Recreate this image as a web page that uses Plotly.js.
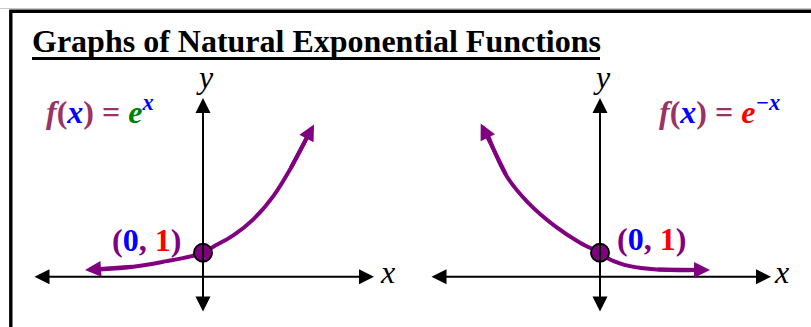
<!DOCTYPE html>
<html><head><meta charset="utf-8">
<script src="https://cdn.plot.ly/plotly-3.0.1.min.js"></script>
<style>html,body{margin:0;padding:0;background:#fff;}#chart{width:811px;height:327px;}</style>
</head><body><div id="chart"></div>
<script>
// ---- values (data units: x, and y with (0,1) the marked point) ----
const growthX = [-1.967, -1.717, -1.162, -0.605, -0.188, 0, 0.172, 0.505, 0.838, 1.172, 1.45, 1.728, 1.85];
const growthY = [0.283, 0.304, 0.417, 0.65, 0.858, 1, 1.25, 1.72, 2.39, 3.36, 4.47, 5.79, 6.35];
const decayX  = [-1.988, -1.862, -1.555, -1.195, -0.75, -0.333, 0, 0.167, 0.5, 0.945, 1.583, 1.833];
const decayY  = [6.39, 5.86, 4.19, 3.08, 2.11, 1.42, 1, 0.721, 0.442, 0.304, 0.275, 0.275];
const pointX = [0];
const pointY = [1];
const pointLabel = ['0', '1'];
const titleText = 'Graphs of Natural Exponential Functions';

// ---- layout constants ----
const W = 811, H = 327;
const PX = p => p / W, PY = p => 1 - p / H;
const XR = [-2.8333, 2.85], YR = [-1.5125, 7.45];
const FONT = 'Liberation Serif, Times New Roman, serif';
const PURPLE = '#800080', PLUM = '#993366';

function curveTraces(xs, ys, xa, ya) {
  const n = xs.length;
  return [
    {x: xs.slice(1, n - 1), y: ys.slice(1, n - 1), xaxis: xa, yaxis: ya, mode: 'lines',
     line: {color: PURPLE, width: 4, shape: 'spline', smoothing: 1}, cliponaxis: false, hoverinfo: 'skip'},
    {x: pointX, y: pointY, xaxis: xa, yaxis: ya, mode: 'markers', cliponaxis: false,
     marker: {symbol: 'circle', size: 18, color: PURPLE, line: {color: '#000', width: 1.8}}, hoverinfo: 'skip'}
  ];
}
function curveHeads(xs, ys, xr, yr) {
  const n = xs.length;
  const c = {showarrow: true, text: '', arrowhead: 2, arrowwidth: 4, arrowsize: 0.8, arrowcolor: PURPLE,
    xref: xr, yref: yr, axref: xr, ayref: yr};
  return [
    Object.assign({}, c, {x: xs[0], y: ys[0], ax: xs[2], ay: ys[2]}),
    Object.assign({}, c, {x: xs[n - 1], y: ys[n - 1], ax: xs[n - 3], ay: ys[n - 3]})
  ];
}

const data = [].concat(curveTraces(growthX, growthY, 'x', 'y'), curveTraces(decayX, decayY, 'x2', 'y2'));

function axisArrows(xr, yr) {
  const common = {showarrow: true, text: '', arrowhead: 2, startarrowhead: 2, arrowside: 'end+start',
    arrowwidth: 2, arrowsize: 1.5, startarrowsize: 1.5, arrowcolor: '#000', xref: xr, yref: yr, axref: xr, ayref: yr};
  return [
    Object.assign({}, common, {x: XR[1], y: 0, ax: XR[0], ay: 0}),
    Object.assign({}, common, {x: 0, y: YR[1], ax: 0, ay: YR[0]})
  ];
}
const sp = (c, t) => '<span style="color:' + c + '">' + t + '</span>';
const ptText = sp(PURPLE, '(') + sp('#0000FF', pointLabel[0]) + sp(PURPLE, ', ') + sp('#FF0000', pointLabel[1]) + sp(PURPLE, ')');
const f1 = '<i>' + sp(PLUM, 'f') + '</i>' + sp(PLUM, '(') + '<i>' + sp('#0000FF', 'x') + '</i>' + sp(PLUM, ') = ') +
  '<i>' + sp('#008000', 'e') + '<sup>' + sp('#0000FF', 'x') + '</sup></i>';
const f2 = '<i>' + sp(PLUM, 'f') + '</i>' + sp(PLUM, '(') + '<i>' + sp('#0000FF', 'x') + '</i>' + sp(PLUM, ') = ') +
  '<i>' + sp('#FF0000', 'e') + '<sup>' + sp('#0000FF', '\u2212x') + '</sup></i>';

const bigFont = {family: FONT, size: 32, color: '#000'};
const annotations = [].concat(
  axisArrows('x', 'y'), axisArrows('x2', 'y2'),
  curveHeads(growthX, growthY, 'x', 'y'), curveHeads(decayX, decayY, 'x2', 'y2'),
  [
    {xref: 'x', yref: 'y', x: pointX[0], y: pointY[0], text: '<b>' + ptText + '</b>', showarrow: false,
     xanchor: 'right', yanchor: 'middle', xshift: -20, yshift: 13, font: bigFont},
    {xref: 'x2', yref: 'y2', x: pointX[0], y: pointY[0], text: '<b>' + ptText + '</b>', showarrow: false,
     xanchor: 'left', yanchor: 'middle', xshift: 15, yshift: 14, font: bigFont},
    {xref: 'paper', yref: 'paper', x: PX(44), y: PY(110), text: '<b>' + f1 + '</b>', showarrow: false,
     xanchor: 'left', yanchor: 'middle', font: bigFont},
    {xref: 'paper', yref: 'paper', x: PX(657), y: PY(110), text: '<b>' + f2 + '</b>', showarrow: false,
     xanchor: 'left', yanchor: 'middle', font: bigFont},
    {xref: 'paper', yref: 'paper', x: PX(205), y: PY(77), text: '<i>y</i>', showarrow: false, xanchor: 'center', yanchor: 'middle', font: bigFont},
    {xref: 'paper', yref: 'paper', x: PX(602), y: PY(77), text: '<i>y</i>', showarrow: false, xanchor: 'center', yanchor: 'middle', font: bigFont},
    {xref: 'paper', yref: 'paper', x: PX(387), y: PY(272), text: '<i>x</i>', showarrow: false, xanchor: 'center', yanchor: 'middle', font: bigFont},
    {xref: 'paper', yref: 'paper', x: PX(781), y: PY(272), text: '<i>x</i>', showarrow: false, xanchor: 'center', yanchor: 'middle', font: bigFont}
  ]
);

const hidden = {showgrid: false, zeroline: false, showline: false, showticklabels: false, ticks: '', fixedrange: true};
const layout = {
  width: W, height: H, margin: {l: 0, r: 0, t: 0, b: 0},
  paper_bgcolor: '#fff', plot_bgcolor: 'rgba(0,0,0,0)', showlegend: false,
  title: {text: '<b>' + titleText + '</b>', font: {family: FONT, size: 32, color: '#000'},
          x: PX(32), xanchor: 'left', xref: 'paper', y: PY(41), yanchor: 'middle', yref: 'container'},
  xaxis: Object.assign({}, hidden, {domain: [PX(33), PX(374)], range: XR}),
  yaxis: Object.assign({}, hidden, {domain: [PY(313), PY(98)], range: YR}),
  xaxis2: Object.assign({}, hidden, {domain: [PX(430), PX(771)], range: XR, anchor: 'y2'}),
  yaxis2: Object.assign({}, hidden, {domain: [PY(313), PY(98)], range: YR, anchor: 'x2'}),
  annotations: annotations,
  shapes: [
    {type: 'line', xref: 'paper', yref: 'paper', x0: 0, x1: 1, y0: PY(8.5), y1: PY(8.5), line: {color: '#c8c8c8', width: 1}},
    {type: 'rect', xref: 'paper', yref: 'paper', x0: PX(10.8), y0: PY(11.3), x1: 1.2, y1: -0.2, line: {color: '#000', width: 3.4}},
    {type: 'line', xref: 'paper', yref: 'paper', x0: PX(32), x1: PX(600), y0: PY(58.5), y1: PY(58.5), line: {color: '#000', width: 3}}
  ]
};
Plotly.newPlot('chart', data, layout, {staticPlot: true, displayModeBar: false});
</script></body></html>
